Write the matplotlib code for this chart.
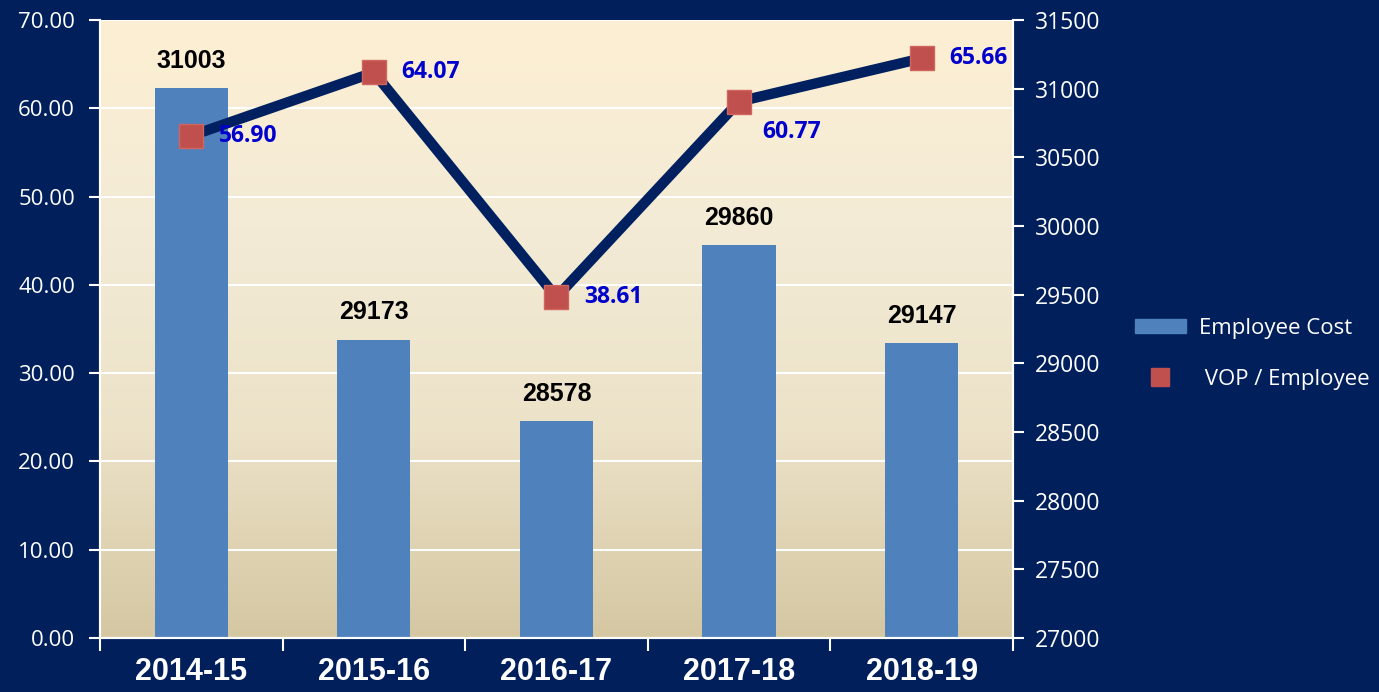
import numpy as np
import matplotlib.pyplot as plt
from matplotlib.colors import LinearSegmentedColormap
from matplotlib.patches import Patch
from matplotlib.lines import Line2D
from matplotlib.transforms import blended_transform_factory

# data
years = ['2014-15', '2015-16', '2016-17', '2017-18', '2018-19']
employee_cost = [31003, 29173, 28578, 29860, 29147]
vop_per_employee = [56.90, 64.07, 38.61, 60.77, 65.66]

navy = '#001f5b'
bar_color = '#4f81bd'
marker_color = '#c0504d'
line_color = '#002060'

fig = plt.figure(figsize=(13.79, 6.92), dpi=100, facecolor=navy)
ax = fig.add_axes([0.0725, 0.078, 0.662, 0.893])   # bars (right scale)
ax2 = ax.twinx()                                     # line (left scale)

x = np.arange(len(years))

# gradient background
cmap = LinearSegmentedColormap.from_list('bg', ['#fdefd3', '#f3ebd6', '#ece2c8', '#d5c7a2'])
grad = np.linspace(0, 1, 256).reshape(-1, 1)
ax.imshow(grad, cmap=cmap, aspect='auto', extent=[0, 1, 0, 1],
          transform=ax.transAxes, zorder=0)

# gridlines at the left-scale ticks, behind the bars
left_ticks = np.arange(0, 71, 10)
trans = blended_transform_factory(ax.transAxes, ax2.transData)
for v in left_ticks[1:]:
    ax.plot([0, 1], [v, v], color='white', lw=1.5, transform=trans, zorder=1)

bars = ax.bar(x, np.array(employee_cost) - 27000, bottom=27000, width=0.4,
              color=bar_color, zorder=2)
for xi, v in zip(x, employee_cost):
    ax.annotate(str(v), (xi, v), xytext=(0, 11), textcoords='offset points',
                ha='center', va='bottom', fontsize=18, fontweight='bold',
                family='Liberation Sans', color='black', zorder=5)

ax2.plot(x, vop_per_employee, color=line_color, lw=7.5, zorder=3,
         marker='s', markersize=17, markerfacecolor=marker_color,
         markeredgecolor='#d06560', markeredgewidth=1)
label_offsets = [(20, 0), (20, 0), (20, 0), (17, -22), (20, 0)]
for xi, v, off in zip(x, vop_per_employee, label_offsets):
    ax2.annotate(f'{v:.2f}', (xi, v), xytext=off, textcoords='offset points',
                 ha='left', va='center', fontsize=16.5, fontweight='bold',
                 family='Open Sans', color='#0000cc', zorder=6)

# scales
ax.set_xlim(-0.5, 4.5)
ax.set_ylim(27000, 31500)
ax2.set_ylim(0, 70)

ax.yaxis.tick_right()
ax.yaxis.set_label_position('right')
ax2.yaxis.tick_left()
ax2.yaxis.set_label_position('left')

ax.set_yticks(np.arange(27000, 31501, 500))
ax2.set_yticks(left_ticks)
ax2.set_yticklabels([f'{v:.2f}' for v in left_ticks])

ax.set_xticks(x)
ax.set_xticklabels(years)
ax.set_xticks(np.arange(-0.5, 5, 1), minor=True)
ax.tick_params(axis='x', which='major', length=0, pad=14, labelsize=22,
               labelcolor='white')
ax.tick_params(axis='x', which='minor', length=9, width=1.5, color='white')
for lab in ax.get_xticklabels():
    lab.set_fontweight('bold')
    lab.set_family('Liberation Sans')

ax.tick_params(axis='y', length=8, width=1.5, color='white', labelcolor='white',
               labelsize=16.5, pad=8)
ax2.tick_params(axis='y', length=8, width=1.5, color='white', labelcolor='white',
                labelsize=16, pad=10)
for lab in ax.get_yticklabels() + ax2.get_yticklabels():
    lab.set_family('Open Sans')

for a in (ax, ax2):
    a.spines['top'].set_visible(False)
    for s in ('left', 'right', 'bottom'):
        a.spines[s].set_color('white')
        a.spines[s].set_linewidth(1.5)
ax.set_facecolor('none')

handles = [Patch(facecolor=bar_color, edgecolor=bar_color),
           Line2D([], [], ls='none', marker='s', markersize=13,
                  markerfacecolor=marker_color, markeredgecolor=marker_color)]
leg = fig.legend(handles, ['Employee Cost', ' VOP / Employee'],
                 loc='center left', bbox_to_anchor=(0.8084, 0.489),
                 frameon=False, labelcolor='white', handlelength=2.3,
                 handleheight=0.6, labelspacing=1.35, handletextpad=0.6,
                 prop={'family': 'Open Sans', 'size': 16})

fig.savefig('out.png', dpi=100, facecolor=navy)
